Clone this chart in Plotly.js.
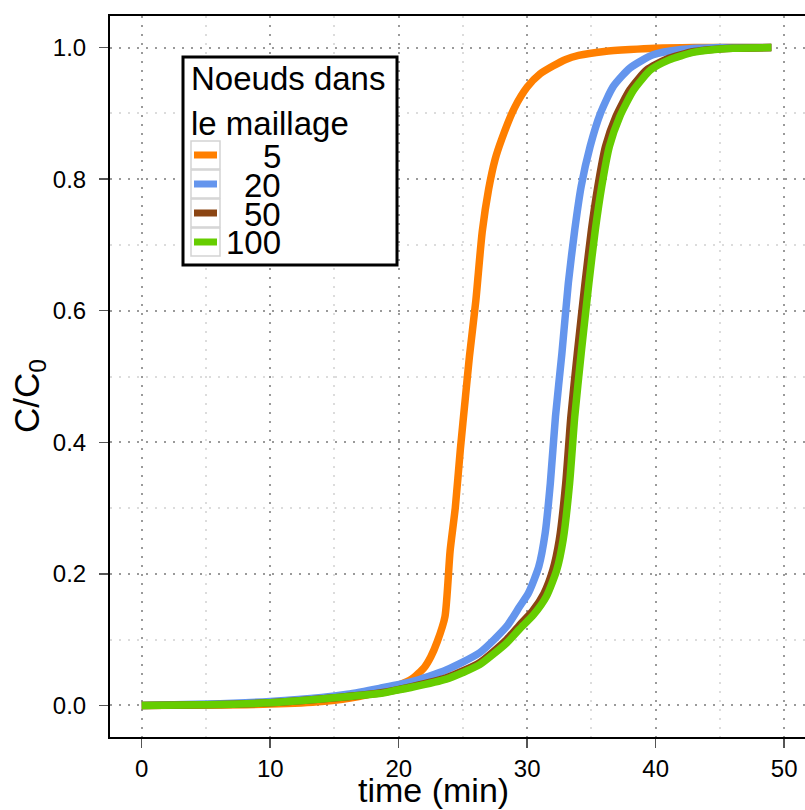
<!DOCTYPE html>
<html>
<head>
<meta charset="utf-8">
<script src="https://cdn.plot.ly/plotly-3.0.1.min.js"></script>
<style>html,body{margin:0;padding:0;background:#fff;}#chart{width:805px;height:810px;}</style>
</head>
<body>
<div id="chart"></div>
<script>
// ---- data ----
const seriesNames = ["5", "20", "50", "100"];
const seriesColors = ["#FF7F00", "#6495ED", "#8B4513", "#66CD00"];

const t5 = [0,5,10,14,17,19,20,21,22,22.5,23,23.6,24,24.4,24.8,25.2,25.5,26,26.5,27,27.5,28,29,30,31,32,33,34,36,38,40,43,46,49];
const c5 = [0,0.0005,0.002,0.006,0.014,0.024,0.031,0.04,0.058,0.074,0.097,0.135,0.235,0.3,0.39,0.47,0.53,0.615,0.72,0.785,0.83,0.86,0.908,0.94,0.96,0.972,0.982,0.988,0.994,0.997,0.999,1.0,1.0,1.0];

const t20 = [0,5,10,14,16,18.5,21,23.7,26.3,28.4,29.4,30.1,30.9,31.4,31.8,32.2,32.7,33.2,33.7,34.2,34.9,35.7,36.7,38,39.8,42,45,49];
const c20 = [0,0.002,0.006,0.012,0.017,0.026,0.036,0.054,0.08,0.12,0.15,0.171,0.211,0.262,0.338,0.439,0.535,0.642,0.723,0.789,0.85,0.9,0.941,0.969,0.989,0.997,1.0,1.0];

const t50 = [0,5,10,14.6,18.5,21.1,23.7,26.3,28.4,29.4,30.4,31.3,32.0,32.5,33.0,33.4,33.9,34.5,35.0,35.5,36.1,36.9,38,39.3,40.8,43,46,49];
const c50 = [0,0.001,0.004,0.011,0.019,0.029,0.042,0.065,0.1,0.122,0.143,0.17,0.206,0.252,0.338,0.439,0.535,0.642,0.723,0.789,0.85,0.895,0.936,0.966,0.982,0.994,0.999,1.0];

const t100 = [0,5,10,14.6,18.5,19.8,21.1,23.7,25,26.3,28.4,29.4,30.5,31.5,32.3,32.8,33.3,33.7,34.2,34.8,35.3,35.8,36.4,37.2,38.3,39.6,41,43,46,49];
const c100 = [0,0.001,0.004,0.011,0.018,0.023,0.028,0.04,0.05,0.062,0.095,0.116,0.138,0.166,0.206,0.252,0.338,0.439,0.535,0.642,0.723,0.789,0.85,0.895,0.936,0.966,0.981,0.993,0.999,1.0];

const xTicks = [0,10,20,30,40,50];
const yTicks = [0,0.2,0.4,0.6,0.8,1.0];
const yTickText = ["0.0","0.2","0.4","0.6","0.8","1.0"];
const xTitle = "time (min)";
const yTitle = "C/C<sub>0</sub>";
const legendTitle = ["Noeuds dans", "le maillage"];

// ---- layout geometry ----
const W = 805, H = 810;
const PL = 110, PR = 805, PT = 16, PB = 737;
const px = v => (v - PL) / (PR - PL);
const py = v => (PB - v) / (PB - PT);
const FONT = "Liberation Sans, Arial, sans-serif";

const ts = [t5, t20, t50, t100];
const cs = [c5, c20, c50, c100];
const traces = seriesNames.map((n, i) => ({
  type: "scatter", mode: "lines", name: n,
  x: ts[i], y: cs[i],
  line: {color: seriesColors[i], width: 7.5, shape: "spline", smoothing: 0.6},
  showlegend: false, hoverinfo: "skip"
}));

// manual legend (box, swatches, labels)
const shapes = [];
const annotations = [];
shapes.push({type:"rect", xref:"paper", yref:"paper", x0:px(183), x1:px(397), y0:py(265), y1:py(57),
  line:{color:"#000", width:3}, fillcolor:"#fff", layer:"above"});
const rowY = [155, 184, 213, 242];
seriesNames.forEach((n, i) => {
  const yc = rowY[i];
  shapes.push({type:"rect", xref:"paper", yref:"paper", x0:px(191), x1:px(220), y0:py(yc+14), y1:py(yc-14),
    line:{color:"#d3d3d3", width:1.5}, fillcolor:"rgba(0,0,0,0)", layer:"above"});
  shapes.push({type:"line", xref:"paper", yref:"paper", x0:px(194), x1:px(217), y0:py(yc), y1:py(yc),
    line:{color:seriesColors[i], width:7}, layer:"above"});
  annotations.push({xref:"paper", yref:"paper", x:px(283), y:py(yc+1), xanchor:"right", yanchor:"middle",
    text:n, showarrow:false, font:{family:FONT, size:33, color:"#000"}});
});
annotations.push({xref:"paper", yref:"paper", x:px(189), y:py(79), xanchor:"left", yanchor:"middle",
  text:legendTitle[0], showarrow:false, font:{family:FONT, size:33, color:"#000"}});
annotations.push({xref:"paper", yref:"paper", x:px(189), y:py(123), xanchor:"left", yanchor:"middle",
  text:legendTitle[1], showarrow:false, font:{family:FONT, size:33, color:"#000"}});
// axis titles
annotations.push({xref:"paper", yref:"paper", x:px(433), y:py(790), xanchor:"center", yanchor:"middle",
  text:xTitle, showarrow:false, font:{family:FONT, size:34, color:"#000"}});
annotations.push({xref:"paper", yref:"paper", x:px(29), y:py(396), xanchor:"center", yanchor:"middle",
  text:yTitle, textangle:-90, showarrow:false, font:{family:FONT, size:35, color:"#000"}});

const layout = {
  width: W, height: H,
  margin: {l: PL, r: W - PR, t: PT, b: H - PB, pad: 0},
  paper_bgcolor: "#fff", plot_bgcolor: "#fff",
  showlegend: false,
  font: {family: FONT, color: "#000"},
  xaxis: {
    range: [-2.47, 51.62], tickvals: xTicks, ticktext: xTicks.map(String),
    showline: true, linecolor: "#000", linewidth: 2, mirror: true,
    ticks: "outside", ticklen: 9, tickwidth: 1.5, tickcolor: "#555",
    tickfont: {family: FONT, size: 24, color: "#000"},
    showgrid: true, gridcolor: "#9a9a9a", gridwidth: 2, griddash: "2px,7px",
    minor: {dtick: 5, tick0: 0, showgrid: true, gridcolor: "#dcdcdc", gridwidth: 2, griddash: "2px,7px", ticks: ""},
    zeroline: false, fixedrange: true
  },
  yaxis: {
    range: [-0.048, 1.048], tickvals: yTicks, ticktext: yTickText,
    showline: true, linecolor: "#000", linewidth: 2, mirror: false,
    ticks: "outside", ticklen: 9, tickwidth: 1.5, tickcolor: "#555",
    ticklabelstandoff: 8,
    tickfont: {family: FONT, size: 24, color: "#000"},
    showgrid: true, gridcolor: "#9a9a9a", gridwidth: 2, griddash: "2px,7px",
    minor: {dtick: 0.1, tick0: 0, showgrid: true, gridcolor: "#dcdcdc", gridwidth: 2, griddash: "2px,7px", ticks: ""},
    zeroline: false, fixedrange: true
  },
  shapes: shapes,
  annotations: annotations
};

Plotly.newPlot("chart", traces, layout, {displayModeBar: false, staticPlot: true});
</script>
</body>
</html>
